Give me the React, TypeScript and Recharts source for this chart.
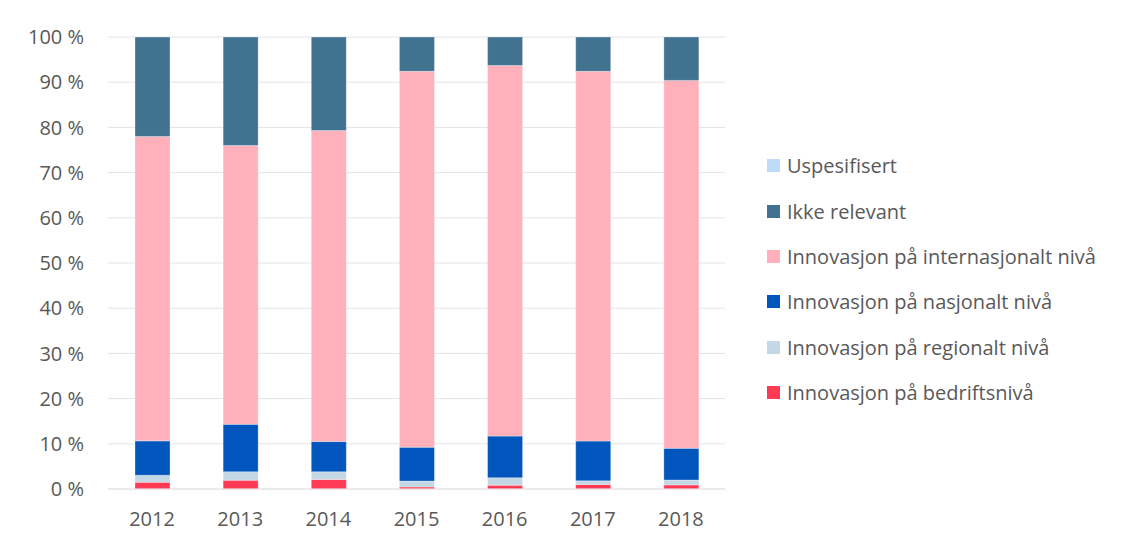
import React from "react";
import { BarChart, Bar, XAxis, YAxis, CartesianGrid, Legend } from "recharts";

const years = ["2012", "2013", "2014", "2015", "2016", "2017", "2018"];
// values in percent
const bedrift = [1.5, 1.95, 2.1, 0.45, 0.85, 1.0, 0.9];
const regional = [1.55, 1.85, 1.7, 1.3, 1.65, 0.8, 1.1];
const nasjonal = [7.6, 10.5, 6.7, 7.5, 9.2, 8.8, 7.0];
const internasjonal = [67.35, 61.7, 68.8, 83.15, 82.0, 81.8, 81.4];
const ikkeRelevant = [22.0, 24.0, 20.7, 7.6, 6.3, 7.6, 9.6];
const uspesifisert = [0, 0, 0, 0, 0, 0, 0];
const yTicks = [0, 10, 20, 30, 40, 50, 60, 70, 80, 90, 100];

const series = [
  { key: "bedrift", name: "Innovasjon på bedriftsnivå", color: "#FF3A55" },
  { key: "regional", name: "Innovasjon på regionalt nivå", color: "#C3D8E4" },
  { key: "nasjonal", name: "Innovasjon på nasjonalt nivå", color: "#0056BC" },
  { key: "internasjonal", name: "Innovasjon på internasjonalt nivå", color: "#FFB0BA" },
  { key: "ikkeRelevant", name: "Ikke relevant", color: "#41728F" },
  { key: "uspesifisert", name: "Uspesifisert", color: "#BDDBF9" },
];

const data = years.map((year, i) => ({
  year,
  bedrift: bedrift[i],
  regional: regional[i],
  nasjonal: nasjonal[i],
  internasjonal: internasjonal[i],
  ikkeRelevant: ikkeRelevant[i],
  uspesifisert: uspesifisert[i],
}));

const font = "'Open Sans', sans-serif";
const textColor = "#595959";

const LegendContent = () => (
  <div style={{ fontFamily: font, fontSize: 20, color: textColor }}>
    {[...series].reverse().map((s) => (
      <div
        key={s.key}
        style={{ display: "flex", alignItems: "center", height: 45.4, whiteSpace: "nowrap" }}
      >
        <span
          style={{ width: 13, height: 13, background: s.color, marginRight: 7, display: "inline-block" }}
        />
        {s.name}
      </div>
    ))}
  </div>
);

export default function App() {
  return (
    <div style={{ position: "absolute", left: 0, top: 0, width: 1122, height: 544, background: "#fff" }}>
      <BarChart
        width={1122}
        height={544}
        data={data}
        margin={{ top: 37, right: 42, left: 0, bottom: 15 }}
        barSize={35}
      >
        <CartesianGrid vertical={false} stroke="#e4e4e4" />
        <XAxis
          dataKey="year"
          height={40}
          axisLine={{ stroke: "#e4e4e4" }}
          tickLine={false}
          tickSize={0}
          tickMargin={23}
          tick={{ fill: textColor, fontSize: 20, fontFamily: font }}
        />
        <YAxis
          width={108}
          domain={[0, 100]}
          ticks={yTicks}
          axisLine={false}
          tickLine={false}
          tickSize={0}
          tickMargin={24}
          tickFormatter={(v: number) => `${v} %`}
          tick={{ fill: textColor, fontSize: 20, fontFamily: font }}
        />
        <Legend
          layout="vertical"
          align="right"
          verticalAlign="middle"
          content={<LegendContent />}
          wrapperStyle={{ left: 767, top: 143, width: 355 }}
        />
        {series.map((s) => (
          <Bar
            key={s.key}
            dataKey={s.key}
            name={s.name}
            stackId="a"
            fill={s.color}
            stroke="#ffffff"
            strokeOpacity={0.4}
            strokeWidth={0.75}
            isAnimationActive={false}
          />
        ))}
      </BarChart>
    </div>
  );
}
